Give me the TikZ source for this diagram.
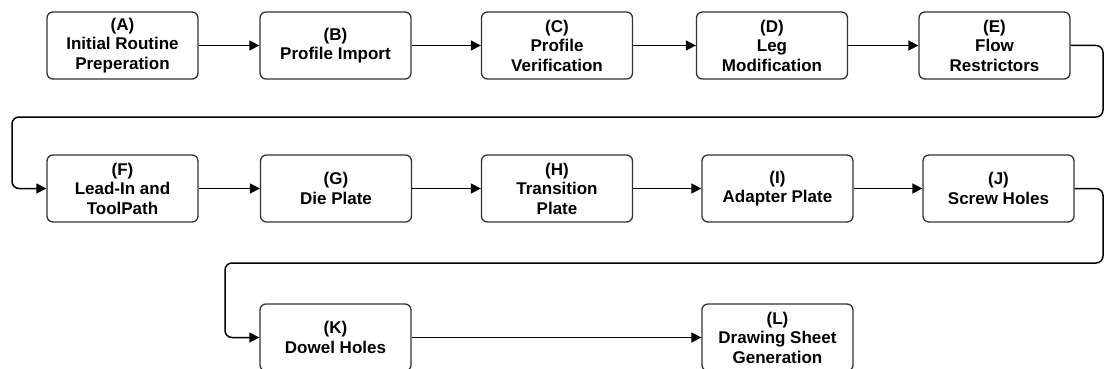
\documentclass[tikz,border=0pt]{standalone}
\usepackage{fontspec}
\setmainfont{Liberation Sans}
\usetikzlibrary{arrows.meta}
\begin{document}
\begin{tikzpicture}[x=1pt,y=-1pt,
  stepbox/.style={draw=black!80, line width=1.3pt, rounded corners=6pt, fill=white,
    minimum width=151pt, minimum height=67pt, align=center, inner sep=2pt,
    font=\fontsize{17}{19.5}\selectfont\bfseries},
  conn/.style={draw=black, line width=1.5pt, -{Triangle[length=10pt,width=10pt]}},
  loop/.style={conn, rounded corners=7pt}]
\useasboundingbox (0,0) rectangle (1104,369);
\node[stepbox] (A) at (122.5,45.5) {(A)\\Initial Routine\\Preperation};
\node[stepbox] (B) at (335.5,45.5) {(B)\\Profile Import};
\node[stepbox] (C) at (557,45.5) {(C)\\Profile\\Verification};
\node[stepbox] (D) at (772,45.5) {(D)\\Leg\\Modification};
\node[stepbox] (E) at (994.5,45.5) {(E)\\Flow\\Restrictors};
\node[stepbox] (F) at (122.5,188.5) {(F)\\Lead-In and\\ToolPath};
\node[stepbox] (G) at (336,188.5) {(G)\\Die Plate};
\node[stepbox] (H) at (557,188.5) {(H)\\Transition\\Plate};
\node[stepbox] (I) at (777.5,188.5) {(I)\\Adapter Plate};
\node[stepbox] (J) at (998.5,188.5) {(J)\\Screw Holes};
\node[stepbox] (K) at (335.5,337.5) {(K)\\Dowel Holes};
\node[stepbox] (L) at (777.5,337.5) {(L)\\Drawing Sheet\\Generation};
\coordinate (r1) at (1103,117);
\coordinate (l1) at (12,117);
\coordinate (r2) at (1103,263);
\coordinate (l2) at (225,263);
\draw[conn] (A) -- (B);
\draw[conn] (B) -- (C);
\draw[conn] (C) -- (D);
\draw[conn] (D) -- (E);
\draw[loop] (E.east) -| (r1) -- (l1) |- (F.west);
\draw[conn] (F) -- (G);
\draw[conn] (G) -- (H);
\draw[conn] (H) -- (I);
\draw[conn] (I) -- (J);
\draw[loop] (J.east) -| (r2) -- (l2) |- (K.west);
\draw[conn] (K) -- (L);
\end{tikzpicture}
\end{document}
